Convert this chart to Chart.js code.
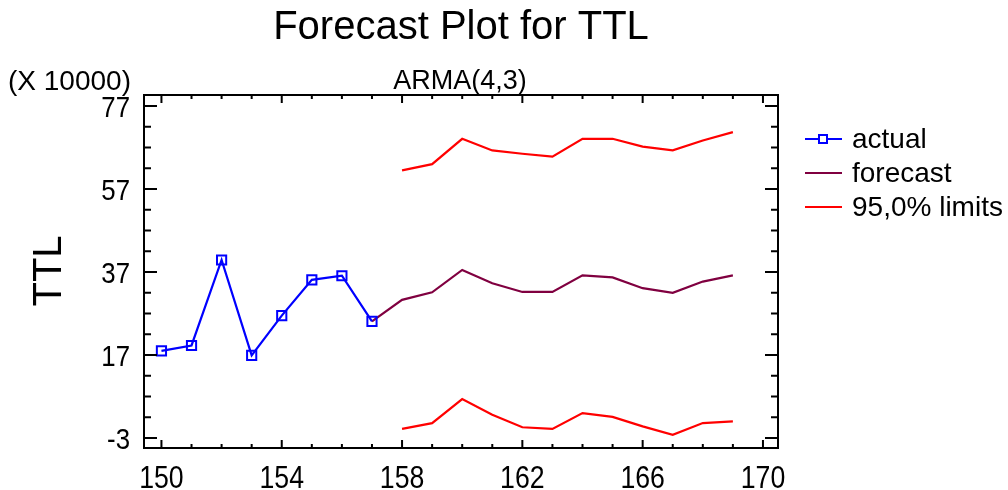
<!DOCTYPE html>
<html>
<head>
<meta charset="utf-8">
<script src="https://cdn.jsdelivr.net/npm/chart.js@4.4.0/dist/chart.umd.min.js"></script>
<style>
  html, body { margin: 0; padding: 0; background: #fff; }
  #wrap { width: 1008px; height: 490px; }
</style>
</head>
<body>
<div id="wrap"><canvas id="chart" width="1008" height="490"></canvas></div>
<script>
// data (values in units of 10000)
const actualX = [150, 151, 152, 153, 154, 155, 156, 157];
const actualY = [18.0, 19.3, 39.9, 16.9, 26.5, 35.1, 36.1, 25.1];

const forecastX = [157, 158, 159, 160, 161, 162, 163, 164, 165, 166, 167, 168, 169];
const forecastY = [25.1, 30.3, 32.1, 37.5, 34.3, 32.2, 32.2, 36.2, 35.7, 33.1, 32.0, 34.7, 36.2];

const limitX = [158, 159, 160, 161, 162, 163, 164, 165, 166, 167, 168, 169];
const upperY = [61.5, 63.0, 69.1, 66.3, 65.5, 64.8, 69.1, 69.1, 67.2, 66.3, 68.7, 70.7];
const lowerY = [-0.8, 0.6, 6.4, 2.6, -0.4, -0.8, 3.0, 2.1, -0.2, -2.2, 0.6, 1.0];

const xTicks = [150, 154, 158, 162, 166, 170];
const yTicks = [-3, 17, 37, 57, 77];

const legendLabels = ['actual', 'forecast', '95,0% limits'];

const BLUE = '#0000ff';
const MAROON = '#800040';
const RED = '#ff0000';
const FONT = '"Liberation Sans", Arial, sans-serif';

const pts = (xs, ys) => xs.map((x, i) => ({ x: x, y: ys[i] }));

// text squeezed sideways, the tick labels are set in a narrow face
function narrowText(ctx, txt, x, y, align) {
    ctx.save();
    ctx.translate(x, y);
    ctx.scale(0.86, 1);
    ctx.textAlign = align;
    ctx.fillText(txt, 0, 0);
    ctx.restore();
}

// white background, titles, frame with inward ticks, tick labels, legend
const decor = {
    id: 'decor',
    beforeDraw(chart) {
        const ctx = chart.ctx;
        ctx.save();
        ctx.fillStyle = '#fff';
        ctx.fillRect(0, 0, chart.width, chart.height);
        ctx.restore();
    },
    afterDraw(chart) {
        const ctx = chart.ctx;
        const a = chart.chartArea;
        const xs = chart.scales.x, ys = chart.scales.y;
        ctx.save();
        ctx.fillStyle = '#000';
        ctx.textAlign = 'center';
        ctx.textBaseline = 'middle';
        ctx.font = '40px ' + FONT;
        ctx.fillText('Forecast Plot for TTL', 461, 28);
        ctx.font = '27px ' + FONT;
        ctx.fillText('ARMA(4,3)', 460, 82);
        ctx.textAlign = 'left';
        ctx.font = '28px ' + FONT;
        ctx.fillText('(X 10000)', 8, 82);

        ctx.save();
        ctx.translate(48, 271);
        ctx.rotate(-Math.PI / 2);
        ctx.textAlign = 'center';
        ctx.font = '40px ' + FONT;
        ctx.fillText('TTL', 0, 2);
        ctx.restore();

        // tick labels
        ctx.textBaseline = 'alphabetic';
        ctx.font = '31px ' + FONT;
        xTicks.forEach(v => narrowText(ctx, String(v), xs.getPixelForValue(v), 488, 'center'));
        ctx.font = '30px ' + FONT;
        yTicks.forEach(v => narrowText(ctx, String(v), 130, ys.getPixelForValue(v) + 11, 'right'));

        // frame
        ctx.strokeStyle = '#000';
        ctx.lineWidth = 2;
        ctx.strokeRect(a.left, a.top, a.right - a.left, a.bottom - a.top);

        // x ticks (major every 4, minor every 1), bottom and top, pointing in
        for (let v = 150; v <= 170; v++) {
            const px = xs.getPixelForValue(v);
            const len = (v - 150) % 4 === 0 ? 8 : 4;
            ctx.beginPath();
            ctx.moveTo(px, a.bottom); ctx.lineTo(px, a.bottom - len);
            ctx.moveTo(px, a.top); ctx.lineTo(px, a.top + len);
            ctx.stroke();
        }
        // y ticks (major every 20, minor every 5), left and right
        for (let v = -3; v <= 77; v += 5) {
            const py = ys.getPixelForValue(v);
            const len = (v + 3) % 20 === 0 ? 13 : 7;
            ctx.beginPath();
            ctx.moveTo(a.left, py); ctx.lineTo(a.left + len, py);
            ctx.moveTo(a.right, py); ctx.lineTo(a.right - len, py);
            ctx.stroke();
        }

        // legend
        const colors = [BLUE, MAROON, RED];
        const rows = [139, 173, 207];
        ctx.font = '28px ' + FONT;
        ctx.textAlign = 'left';
        ctx.textBaseline = 'middle';
        rows.forEach((y, i) => {
            ctx.strokeStyle = colors[i];
            ctx.lineWidth = 2;
            ctx.beginPath();
            ctx.moveTo(805, y); ctx.lineTo(842, y);
            ctx.stroke();
            if (i === 0) {
                ctx.fillStyle = '#fff';
                ctx.fillRect(819, y - 4, 8, 8);
                ctx.strokeRect(819, y - 4, 8, 8);
            }
            ctx.fillStyle = '#000';
            ctx.fillText(legendLabels[i], 852, y + 1);
        });
        ctx.restore();
    }
};

new Chart(document.getElementById('chart'), {
    type: 'line',
    data: {
        datasets: [
            {
                label: 'actual',
                data: pts(actualX, actualY),
                borderColor: BLUE,
                backgroundColor: 'rgba(0,0,0,0)',
                borderWidth: 2.2,
                pointStyle: 'rect',
                pointRadius: 6.5,
                pointBorderWidth: 2,
                pointBorderColor: BLUE,
                pointBackgroundColor: 'rgba(0,0,0,0)',
                tension: 0,
                order: 1
            },
            {
                label: 'forecast',
                data: pts(forecastX, forecastY),
                borderColor: MAROON,
                borderWidth: 2.2,
                pointRadius: 0,
                tension: 0,
                order: 2
            },
            {
                label: 'upper',
                data: pts(limitX, upperY),
                borderColor: RED,
                borderWidth: 2.2,
                pointRadius: 0,
                tension: 0
            },
            {
                label: 'lower',
                data: pts(limitX, lowerY),
                borderColor: RED,
                borderWidth: 2.2,
                pointRadius: 0,
                tension: 0
            }
        ]
    },
    options: {
        responsive: false,
        animation: false,
        layout: { padding: { left: 0, top: 95, right: 230, bottom: 0 } },
        plugins: { legend: { display: false }, tooltip: { enabled: false } },
        scales: {
            x: {
                type: 'linear',
                min: 149.42,
                max: 170.5,
                grid: { display: false, drawTicks: false },
                border: { display: false },
                afterBuildTicks: s => { s.ticks = xTicks.map(v => ({ value: v })); },
                afterFit: s => { s.height = 42; },
                ticks: { display: false }
            },
            y: {
                type: 'linear',
                min: -5.4,
                max: 79.65,
                grid: { display: false, drawTicks: false },
                border: { display: false },
                afterBuildTicks: s => { s.ticks = yTicks.map(v => ({ value: v })); },
                afterFit: s => { s.width = 144; },
                ticks: { display: false }
            }
        }
    },
    plugins: [decor]
});
</script>
</body>
</html>
